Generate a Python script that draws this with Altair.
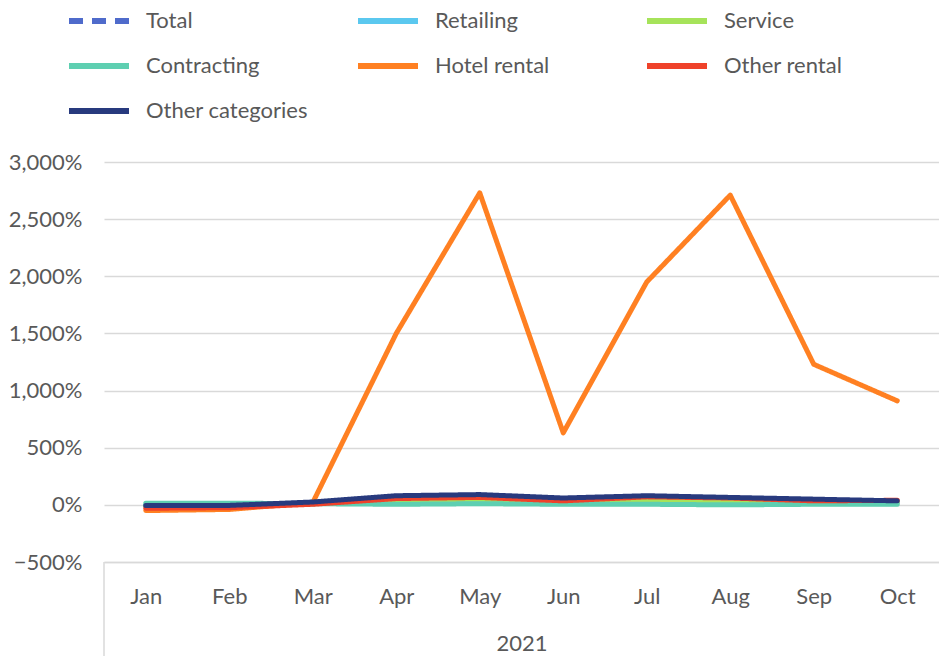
import altair as alt
import pandas as pd

months = ["Jan", "Feb", "Mar", "Apr", "May", "Jun", "Jul", "Aug", "Sep", "Oct"]
series_names = ["Total", "Retailing", "Service", "Contracting", "Hotel rental",
                "Other rental", "Other categories"]
total = [-10, -8, 15, 45, 55, 30, 45, 40, 30, 25]
retailing = [-5, -5, 10, 35, 45, 25, 35, 30, 25, 20]
service = [-15, -10, 10, 40, 50, 20, 40, 30, 25, 20]
contracting = [15, 15, 10, 5, 10, 5, 5, 0, 5, 5]
hotel_rental = [-50, -40, 20, 1500, 2730, 630, 1950, 2710, 1230, 910]
other_rental = [-30, -25, 5, 55, 65, 35, 70, 60, 35, 40]
other_categories = [-5, -5, 25, 80, 90, 60, 80, 65, 50, 35]
y_ticks = [-500, 0, 500, 1000, 1500, 2000, 2500, 3000]
colors = ["#4F6BCB", "#5BC8EF", "#A6E35A", "#5ECFB1", "#FF8022", "#EF422A", "#283A7E"]
dashes = [[14, 9], [1, 0], [1, 0], [1, 0], [1, 0], [1, 0], [1, 0]]

values = [total, retailing, service, contracting, hotel_rental, other_rental, other_categories]
rows = []
for name, vals in zip(series_names, values):
    for i, (m, v) in enumerate(zip(months, vals)):
        rows.append({"Month": m, "Idx": i, "Series": name, "Value": v})
df = pd.DataFrame(rows)

FONT = "Lato"
FS = 22
TXT = "#595959"
GRID = "#d9d9d9"

legend = alt.Legend(
    title=None, orient="none", legendX=-38, legendY=-174, columns=3, direction="horizontal",
    symbolType="stroke", symbolSize=3600, symbolStrokeWidth=6,
    labelFont=FONT, labelFontSize=FS, labelColor=TXT, labelOffset=14,
    rowPadding=0, columnPadding=38, gridAlign="all", labelLimit=400,
)

lines = alt.Chart(df).mark_line(strokeWidth=5, strokeCap="round", strokeJoin="round").encode(
    x=alt.X("Month:N", sort=months, title="2021",
            scale=alt.Scale(paddingInner=0, paddingOuter=0),
            axis=alt.Axis(labelAngle=0, ticks=False, domainColor=GRID, domainWidth=1.5,
                          labelFont=FONT, labelFontSize=FS, labelColor=TXT, labelPadding=24,
                          titleFont=FONT, titleFontSize=FS, titleColor=TXT,
                          titleFontWeight="normal", titlePadding=26)),
    y=alt.Y("Value:Q", title=None, scale=alt.Scale(domain=[-500, 3000], nice=False),
            axis=alt.Axis(values=y_ticks, labelExpr="format(datum.value, ',') + '%'",
                          domain=False, ticks=False, gridColor=GRID, gridWidth=1.5,
                          labelFont=FONT, labelFontSize=FS, labelColor=TXT, labelPadding=22)),
    color=alt.Color("Series:N", scale=alt.Scale(domain=series_names, range=colors),
                    sort=series_names, legend=legend),
    strokeDash=alt.StrokeDash("Series:N", scale=alt.Scale(domain=series_names, range=dashes),
                              sort=series_names, legend=legend),
    order=alt.Order("Idx:Q"),
)

divider = alt.Chart(pd.DataFrame({"Month": [months[0]]})).mark_rule(
    color=GRID, strokeWidth=1.5).encode(
    x=alt.value(0), y=alt.value(400), y2=alt.value(500))

chart = alt.layer(lines, divider).properties(
    width=835, height=400,
    autosize=alt.AutoSizeParams(type="none"),
    padding={"left": 96, "top": 154, "right": 0, "bottom": 94},
).configure_view(stroke=None)

chart.save("out.html", embed_options={"renderer": "svg", "actions": False})
